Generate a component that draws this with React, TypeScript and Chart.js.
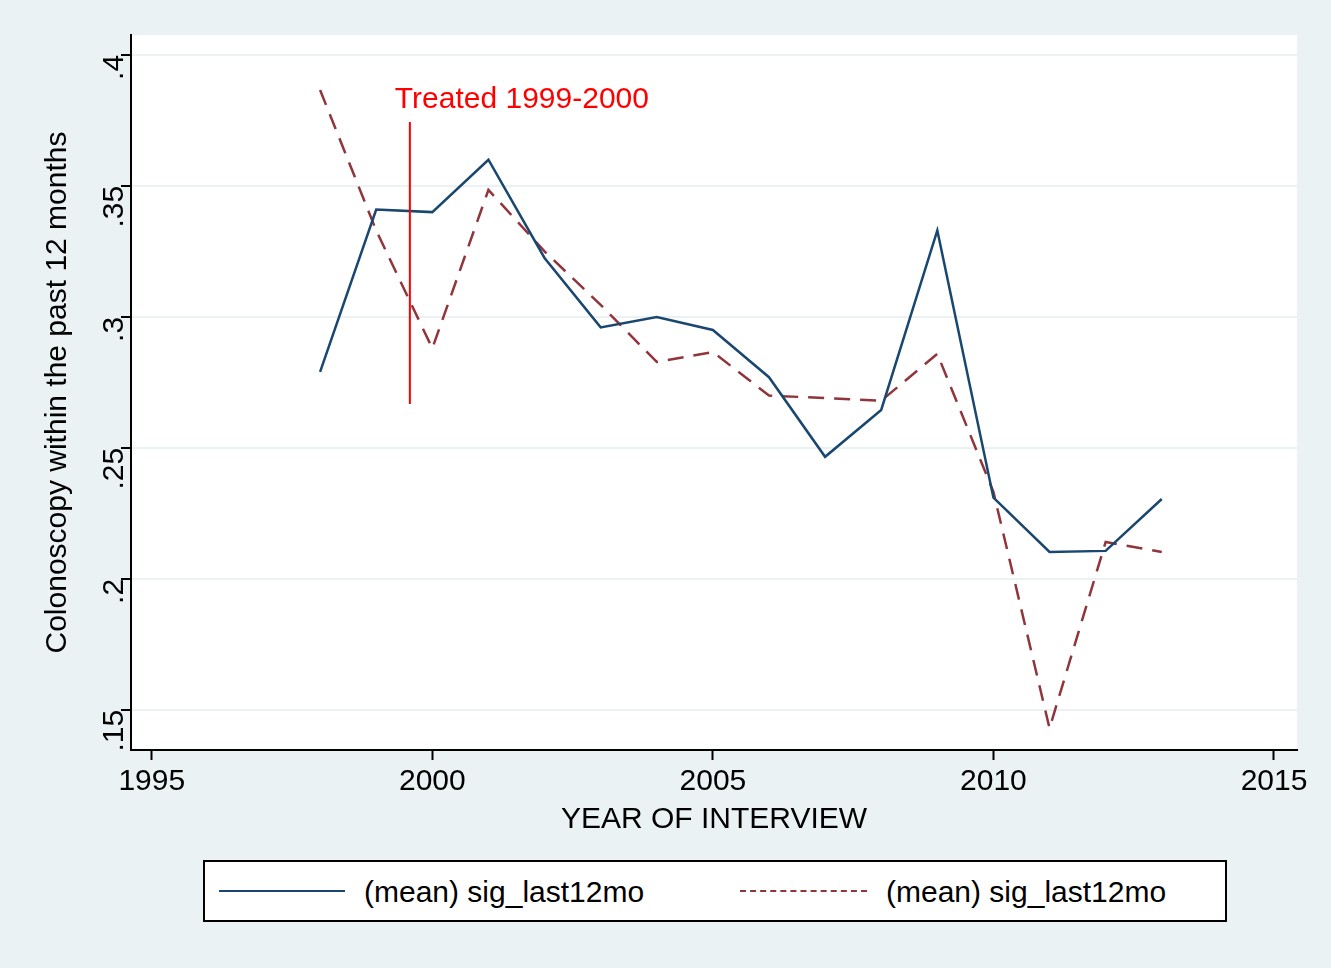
import React, { useEffect, useRef } from "react";
import { Chart, registerables } from "chart.js";
Chart.register(...registerables);

const years = [1998, 1999, 2000, 2001, 2002, 2003, 2004, 2005, 2006, 2007, 2008, 2009, 2010, 2011, 2012, 2013];
const seriesA = [0.279, 0.341, 0.340, 0.360, 0.3225, 0.296, 0.300, 0.295, 0.277, 0.2466, 0.2645, 0.333, 0.231, 0.2103, 0.2107, 0.2305];
const seriesB = [0.3866, 0.333, 0.288, 0.3485, 0.325, 0.3046, 0.2828, 0.2866, 0.270, 0.269, 0.268, 0.2859, 0.2332, 0.143, 0.2141, 0.2103];
const yTicks = [0.15, 0.2, 0.25, 0.3, 0.35, 0.4];
const xTicks = [1995, 2000, 2005, 2010, 2015];
const markerX = 1999.6;
const markerY = [0.2668, 0.3744];
const markerLabel = "Treated 1999-2000";
const seriesLabel = "(mean) sig_last12mo";
const FONT = "'Liberation Sans', Arial, sans-serif";

export default function App() {
  const ref = useRef<HTMLCanvasElement>(null);
  useEffect(() => {
    document.body.style.margin = "0";
    const plugin = {
      id: "deco",
      beforeDraw(c: any) {
        const { ctx, chartArea: a } = c;
        ctx.save();
        ctx.fillStyle = "#ffffff";
        ctx.fillRect(a.left, a.top, a.right - a.left, a.bottom - a.top);
        ctx.restore();
      },
      afterDatasetsDraw(c: any) {
        const { ctx, scales } = c;
        const x = scales.x.getPixelForValue(markerX);
        ctx.save();
        ctx.strokeStyle = "#ff0000";
        ctx.lineWidth = 2;
        ctx.beginPath();
        ctx.moveTo(x, scales.y.getPixelForValue(markerY[0]));
        ctx.lineTo(x, scales.y.getPixelForValue(markerY[1]));
        ctx.stroke();
        ctx.fillStyle = "#ff0000";
        ctx.font = `30px ${FONT}`;
        ctx.textBaseline = "middle";
        ctx.fillText(markerLabel, x - 15, scales.y.getPixelForValue(0.3830));
        ctx.restore();
      },
    };
    const chart = new Chart(ref.current!, {
      type: "line",
      data: {
        datasets: [
          { data: years.map((y, i) => ({ x: y, y: seriesA[i] })), borderColor: "#1a476f", borderWidth: 2.5, pointRadius: 0, tension: 0 },
          { data: years.map((y, i) => ({ x: y, y: seriesB[i] })), borderColor: "#90353b", borderWidth: 2.5, borderDash: [16, 10], pointRadius: 0, tension: 0 },
        ],
      },
      options: {
        animation: false,
        responsive: false,
        layout: { padding: { top: 35, right: 34, left: 0, bottom: 0 } },
        plugins: { legend: { display: false }, tooltip: { enabled: false } },
        scales: {
          x: {
            type: "linear",
            min: 1994.63,
            max: 2015.41,
            afterFit: (s: any) => { s.height = 100; },
            afterBuildTicks: (s: any) => { s.ticks = xTicks.map((v) => ({ value: v })); },
            grid: { drawOnChartArea: false, tickLength: 10, tickColor: "#000", tickWidth: 2 },
            border: { color: "#000", width: 2 },
            ticks: { color: "#000", font: { family: FONT, size: 30 }, padding: 4, maxRotation: 0, callback: (v: any) => String(v) },
            title: { display: true, text: "YEAR OF INTERVIEW", color: "#000", font: { family: FONT, size: 30 }, padding: { top: 0, bottom: 12 } },
          },
          y: {
            type: "linear",
            min: 0.1347,
            max: 0.4076,
            afterFit: (s: any) => { s.width = 131; },
            afterBuildTicks: (s: any) => { s.ticks = yTicks.map((v) => ({ value: v })); },
            grid: { color: "#eaf2f3", lineWidth: 2, tickLength: 10, tickColor: "#000", tickWidth: 2 },
            border: { color: "#000", width: 2 },
            ticks: {
              color: "#000", font: { family: FONT, size: 30 }, padding: 6, minRotation: 90, maxRotation: 90,
              callback: (v: any) => String(Number(v).toFixed(2)).replace(/0+$/, "").replace(/^0/, ""),
            },
            title: { display: true, text: "Colonoscopy within the past 12 months", color: "#000", font: { family: FONT, size: 30 }, padding: { top: 40, bottom: 0 } },
          },
        },
      },
      plugins: [plugin],
    } as any);
    return () => chart.destroy();
  }, []);
  const txt: React.CSSProperties = { position: "absolute", fontFamily: FONT, fontSize: 30, color: "#000", top: 13, lineHeight: "34px" };
  return (
    <div style={{ position: "relative", width: 1331, height: 968, background: "#eaf2f3", overflow: "hidden" }}>
      <canvas ref={ref} width={1331} height={850} style={{ position: "absolute", left: 0, top: 0 }} />
      <div style={{ position: "absolute", left: 203, top: 860, width: 1020, height: 58, background: "#fff", border: "2px solid #000" }}>
        <div style={{ position: "absolute", left: 14, top: 28, width: 126, borderTop: "2.5px solid #1a476f" }} />
        <div style={{ ...txt, left: 159 }}>{seriesLabel}</div>
        <div style={{ position: "absolute", left: 535, top: 28, width: 127, borderTop: "2.5px dashed #90353b" }} />
        <div style={{ ...txt, left: 681 }}>{seriesLabel}</div>
      </div>
    </div>
  );
}
